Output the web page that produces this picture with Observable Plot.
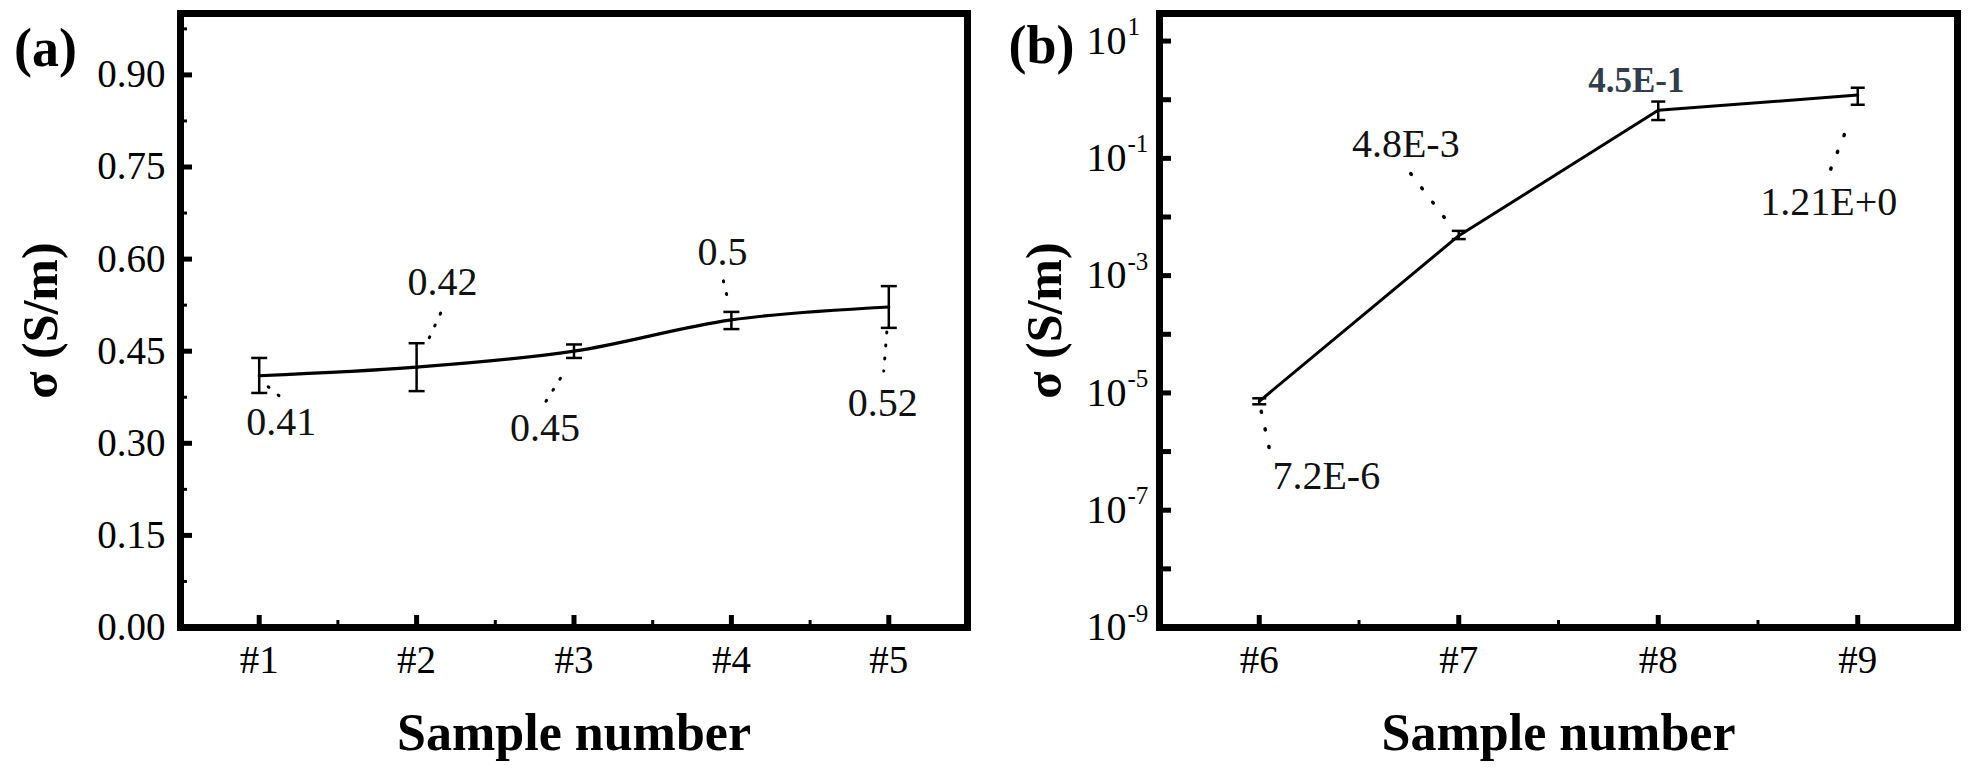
<!DOCTYPE html>
<html><head><meta charset="utf-8">
<script src="https://cdn.jsdelivr.net/npm/d3@7"></script>
<script src="https://cdn.jsdelivr.net/npm/@observablehq/plot@0.6"></script>
<style>
html,body{margin:0;padding:0;background:#fff;}
#wrap{position:relative;width:1969px;height:771px;overflow:hidden;background:#fff;}
#pa{position:absolute;left:0;top:0;}
#pb{position:absolute;left:985px;top:0;}
</style></head><body>
<div id="wrap"><div id="pa"></div><div id="pb"></div></div>
<script>
// ---------- Panel (a) data ----------
const samplesA = [1, 2, 3, 4, 5];
const sigmaA   = [0.410, 0.424, 0.450, 0.501, 0.522];
const sigmaALo = [0.382, 0.385, 0.439, 0.486, 0.488];
const sigmaAHi = [0.439, 0.463, 0.461, 0.514, 0.556];
const labelsA  = ["0.41", "0.42", "0.45", "0.5", "0.52"];
const yTicksA  = [0, 0.15, 0.30, 0.45, 0.60, 0.75, 0.90];
const yMinorA  = [0.075, 0.225, 0.375, 0.525, 0.675, 0.825, 0.975];
const xMinorA  = [1.5, 2.5, 3.5, 4.5];

// ---------- Panel (b) data ----------
const samplesB = [6, 7, 8, 9];
const sigmaB   = [7.2e-6, 4.8e-3, 0.66, 1.2];
const sigmaBLo = [6.4e-6, 4.2e-3, 0.45, 0.82];
const sigmaBHi = [8.1e-6, 5.8e-3, 0.93, 1.6];
const labelsB  = ["7.2E-6", "4.8E-3", "4.5E-1", "1.21E+0"];
const yLabelExpB = [1, -1, -3, -5, -7, -9];
const yTickExpB  = [1, 0, -1, -2, -3, -4, -5, -6, -7, -8, -9];
const xMinorB  = [6.5, 7.5, 8.5];

// ---------- layout / style ----------
const SERIF = "'Liberation Serif', 'Times New Roman', 'DejaVu Serif', serif";
const H = 771, MT = 13, MB = 144;
const layA = {width: 985, ml: 180, mr: 18, xDomain: [0.5, 5.5], yDomain: [0, 1.0]};
const layB = {width: 984, ml: 174, mr: 12, xDomain: [5.5, 9.5], yDomain: [1e-9, Math.pow(10, 1.47)]};
// pixel offsets of annotation text and dotted leaders relative to each point
const textOffA = [[22, 46], [26, -85], [-29, 77], [-9, -68], [-6, 96]];
const leadOffA = [[[9, 11], [21, 21]], [[24, -54], [12, -28]], [[-28, 50], [-11, 23]], [[-8, -39], [-3, -18]], [[-2, 25], [-5, 64]]];
const textOffB = [[67, 75], [-53, -91], [-22, -29], [-29, 107]];
const leadOffB = [[[2, 10], [10, 47]], [[-48, -62], [-5, -6]], null, [[-27, 74], [-10, 31]]];

const capSymbol = {draw(ctx, size) { const r = Math.sqrt(size / Math.PI); ctx.moveTo(-r, 0); ctx.lineTo(r, 0); }};

function leaders(xs, ys, offs, sx, sy) {
  const out = [];
  offs.forEach((o, i) => {
    if (!o) return;
    const px = sx.apply(xs[i]), py = sy.apply(ys[i]);
    out.push({
      x1: sx.invert(px + o[0][0]), y1: sy.invert(py + o[0][1]),
      x2: sx.invert(px + o[1][0]), y2: sy.invert(py + o[1][1])
    });
  });
  return out;
}

function commonFrameMarks(innerW, innerH, xMajor, xMinor, yMajor, yMinor) {
  return [
    Plot.frame({stroke: "black", strokeWidth: 7}),
    Plot.tickX(xMajor, {x: d => d, insetTop: innerH - 12, strokeWidth: 5, stroke: "black"}),
    Plot.tickX(xMinor, {x: d => d, insetTop: innerH - 7, strokeWidth: 3, stroke: "black"}),
    Plot.tickY(yMajor, {y: d => d, insetRight: innerW - 12, strokeWidth: 5, stroke: "black"}),
    Plot.tickY(yMinor, {y: d => d, insetRight: innerW - 7, strokeWidth: 3, stroke: "black"})
  ];
}

// ---------- Panel (a) ----------
{
  const innerW = layA.width - layA.ml - layA.mr, innerH = H - MT - MB;
  const sx = Plot.scale({x: {domain: layA.xDomain, range: [layA.ml, layA.width - layA.mr]}});
  const sy = Plot.scale({y: {domain: layA.yDomain, range: [H - MB, MT]}});
  const data = samplesA.map((s, i) => ({x: s, y: sigmaA[i], lo: sigmaALo[i], hi: sigmaAHi[i]}));
  const lead = leaders(samplesA, sigmaA, leadOffA, sx, sy);
  const plot = Plot.plot({
    width: layA.width, height: H,
    marginLeft: layA.ml, marginRight: layA.mr, marginTop: MT, marginBottom: MB,
    style: {fontFamily: SERIF, background: "white", overflow: "visible"},
    x: {domain: layA.xDomain, axis: null},
    y: {domain: layA.yDomain, axis: null},
    marks: [
      ...commonFrameMarks(innerW, innerH, samplesA, xMinorA, yTicksA, yMinorA),
      Plot.text(yTicksA, {y: d => d, text: d => d3.format(".2f")(d), frameAnchor: "left", dx: -15, textAnchor: "end", lineAnchor: "middle", fontSize: 39, fill: "black"}),
      Plot.text(samplesA, {x: d => d, text: d => "#" + d, frameAnchor: "bottom", dy: 33, textAnchor: "middle", lineAnchor: "middle", fontSize: 39, fill: "black"}),
      Plot.text(["Sample number"], {frameAnchor: "bottom", dy: 106, textAnchor: "middle", lineAnchor: "middle", fontSize: 52, fontWeight: "bold", fill: "black"}),
      Plot.text(["σ (S/m)"], {frameAnchor: "left", dx: -140, rotate: -90, textAnchor: "middle", lineAnchor: "middle", fontSize: 50, fontWeight: "bold", fill: "black"}),
      Plot.text(["(a)"], {frameAnchor: "top-left", dx: -135, dy: 35, textAnchor: "middle", lineAnchor: "middle", fontSize: 54, fontWeight: "bold", fill: "black"}),
      Plot.ruleX(data, {x: "x", y1: "lo", y2: "hi", stroke: "black", strokeWidth: 2.5}),
      Plot.dot(data, {x: "x", y: "hi", symbol: capSymbol, r: 8, stroke: "black", strokeWidth: 2.5, fill: "none"}),
      Plot.dot(data, {x: "x", y: "lo", symbol: capSymbol, r: 8, stroke: "black", strokeWidth: 2.5, fill: "none"}),
      Plot.line(data, {x: "x", y: "y", curve: "catmull-rom", stroke: "black", strokeWidth: 3.2}),
      Plot.link(lead, {x1: "x1", y1: "y1", x2: "x2", y2: "y2", stroke: "black", strokeWidth: 3, strokeDasharray: "1,12", strokeLinecap: "round"}),
      ...labelsA.map((l, i) => Plot.text([i], {x: j => samplesA[j], y: j => sigmaA[j], text: j => labelsA[j], dx: textOffA[i][0], dy: textOffA[i][1], textAnchor: "middle", lineAnchor: "middle", fontSize: 40, fill: "#111"}))
    ]
  });
  document.getElementById("pa").appendChild(plot);
}

// ---------- Panel (b) ----------
{
  const innerW = layB.width - layB.ml - layB.mr, innerH = H - MT - MB;
  const sx = Plot.scale({x: {domain: layB.xDomain, range: [layB.ml, layB.width - layB.mr]}});
  const sy = Plot.scale({y: {type: "log", domain: layB.yDomain, range: [H - MB, MT]}});
  const data = samplesB.map((s, i) => ({x: s, y: sigmaB[i], lo: sigmaBLo[i], hi: sigmaBHi[i]}));
  const lead = leaders(samplesB, sigmaB, leadOffB, sx, sy);
  const expText = e => (e < 0 ? "-" + (-e) : String(e));
  const plot = Plot.plot({
    width: layB.width, height: H,
    marginLeft: layB.ml, marginRight: layB.mr, marginTop: MT, marginBottom: MB,
    style: {fontFamily: SERIF, background: "white", overflow: "visible"},
    x: {domain: layB.xDomain, axis: null},
    y: {type: "log", domain: layB.yDomain, axis: null},
    marks: [
      ...commonFrameMarks(innerW, innerH, samplesB, xMinorB, yTickExpB.map(e => Math.pow(10, e)), []),
      Plot.text(yLabelExpB, {y: e => Math.pow(10, e), text: () => "10", frameAnchor: "left", dx: -33, textAnchor: "end", lineAnchor: "middle", fontSize: 40, fill: "black"}),
      Plot.text(yLabelExpB, {y: e => Math.pow(10, e), text: expText, frameAnchor: "left", dx: -32, dy: -14, textAnchor: "start", lineAnchor: "middle", fontSize: 25, fill: "black"}),
      Plot.text(samplesB, {x: d => d, text: d => "#" + d, frameAnchor: "bottom", dy: 33, textAnchor: "middle", lineAnchor: "middle", fontSize: 39, fill: "black"}),
      Plot.text(["Sample number"], {frameAnchor: "bottom", dy: 106, textAnchor: "middle", lineAnchor: "middle", fontSize: 52, fontWeight: "bold", fill: "black"}),
      Plot.text(["σ (S/m)"], {frameAnchor: "left", dx: -115, rotate: -90, textAnchor: "middle", lineAnchor: "middle", fontSize: 50, fontWeight: "bold", fill: "black"}),
      Plot.text(["(b)"], {frameAnchor: "top-left", dx: -118, dy: 32, textAnchor: "middle", lineAnchor: "middle", fontSize: 54, fontWeight: "bold", fill: "black"}),
      Plot.ruleX(data, {x: "x", y1: "lo", y2: "hi", stroke: "black", strokeWidth: 2.5}),
      Plot.dot(data, {x: "x", y: "hi", symbol: capSymbol, r: 7, stroke: "black", strokeWidth: 2.5, fill: "none"}),
      Plot.dot(data, {x: "x", y: "lo", symbol: capSymbol, r: 7, stroke: "black", strokeWidth: 2.5, fill: "none"}),
      Plot.line(data, {x: "x", y: "y", stroke: "black", strokeWidth: 3}),
      Plot.link(lead, {x1: "x1", y1: "y1", x2: "x2", y2: "y2", stroke: "black", strokeWidth: 3.5, strokeDasharray: "1,17", strokeLinecap: "round"}),
      ...labelsB.map((l, i) => Plot.text([i], {x: j => samplesB[j], y: j => sigmaB[j], text: j => labelsB[j], dx: textOffB[i][0], dy: textOffB[i][1], textAnchor: "middle", lineAnchor: "middle",
        fontSize: i === 2 ? 35 : 40, fontWeight: i === 2 ? "bold" : "normal", fill: i === 2 ? "#2f3d4c" : "#111"}))
    ]
  });
  document.getElementById("pb").appendChild(plot);
}
</script>
</body></html>
